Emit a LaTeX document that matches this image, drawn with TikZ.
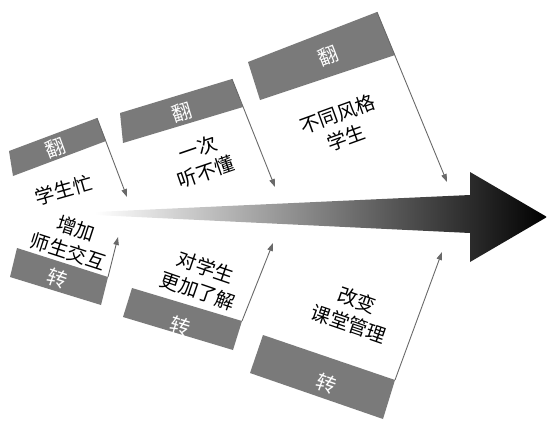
\documentclass[tikz,border=0pt]{standalone}
\usepackage{fontspec}
\newfontfamily\cjk{Noto Sans CJK SC}
\usetikzlibrary{arrows.meta}
\definecolor{flaggray}{RGB}{122,122,122}
\definecolor{linegray}{RGB}{105,105,105}
\begin{document}
\begin{tikzpicture}[x=1pt,y=1pt,
  flag/.style={fill=flaggray, draw=none},
  conn/.style={draw=linegray, line width=0.9pt, -{Triangle[length=8pt,width=5.5pt]}},
  lbl/.style={font=\cjk\fontsize{19.5}{25}\selectfont, text=black, align=center, inner sep=0pt},
  tag/.style={font=\cjk\fontsize{20}{20}\selectfont, text=white, inner sep=0pt}]
\useasboundingbox (0,0) rectangle (547,-426);

% central gradient arrow
\shade[left color=white, middle color=black!15, right color=black]
  (95,-212) -- (470,-195) -- (470,-172) -- (547,-217) -- (470,-262) -- (470,-233) -- (95,-215) -- cycle;

% top flags
\coordinate (f1a) at (9,-151);   \coordinate (f1b) at (97,-118);
\coordinate (f1c) at (106,-141); \coordinate (f1d) at (13,-176);
\coordinate (f1t) at (127,-197);
\coordinate (f2a) at (120,-113); \coordinate (f2b) at (232,-79);
\coordinate (f2c) at (243,-107); \coordinate (f2d) at (123,-143);
\coordinate (f2t) at (275,-187);
\coordinate (f3a) at (248,-62);  \coordinate (f3b) at (377,-12);
\coordinate (f3c) at (395,-55);  \coordinate (f3d) at (260,-100);
\coordinate (f3t) at (447,-182);
\fill[flag] (f1a) -- (f1b) -- (f1c) -- (f1d) -- cycle;
\fill[flag] (f2a) -- (f2b) -- (f2c) -- (f2d) -- cycle;
\fill[flag] (f3a) -- (f3b) -- (f3c) -- (f3d) -- cycle;
\draw[conn] (f1b) -- (f1t);
\draw[conn] (f2b) -- (f2t);
\draw[conn] (f3b) -- (f3t);
\node[tag, rotate=20] (g1) at (55,-148) {翻};
\node[tag, rotate=17] (g2) at (182,-112) {翻};
\node[tag, rotate=21] (g3) at (328,-56) {翻};

% bottom flags
\coordinate (b1a) at (17,-248);  \coordinate (b1b) at (108,-277);
\coordinate (b1c) at (101,-305); \coordinate (b1d) at (10,-277);
\coordinate (b1t) at (118,-237);
\coordinate (b2a) at (132,-288); \coordinate (b2b) at (242,-321);
\coordinate (b2c) at (233,-350); \coordinate (b2d) at (123,-317);
\coordinate (b2t) at (273,-243);
\coordinate (b3a) at (263,-335); \coordinate (b3b) at (395,-380);
\coordinate (b3c) at (383,-419); \coordinate (b3d) at (250,-373);
\coordinate (b3t) at (442,-252);
\fill[flag] (b1a) -- (b1b) -- (b1c) -- (b1d) -- cycle;
\fill[flag] (b2a) -- (b2b) -- (b2c) -- (b2d) -- cycle;
\fill[flag] (b3a) -- (b3b) -- (b3c) -- (b3d) -- cycle;
\draw[conn] (b1b) -- (b1t);
\draw[conn] (b2b) -- (b2t);
\draw[conn] (b3b) -- (b3t);
\node[tag, rotate=-18] (z1) at (57,-278) {转};
\node[tag, rotate=-17] (z2) at (180,-326) {转};
\node[tag, rotate=-19] (z3) at (326,-384) {转};

% labels
\node[lbl, rotate=16] (t1) at (64,-190) {学生忙};
\node[lbl, rotate=-18] (l1) at (72,-240) {增加\\师生交互};
\node[lbl, rotate=19] (t2) at (202,-160) {一次\\听不懂};
\node[lbl, rotate=20] (t3) at (342,-126) {不同风格\\学生};
\node[lbl, rotate=-19] (l2) at (202,-279) {对学生\\更加了解};
\node[lbl, rotate=-19] (l3) at (353,-312) {改变\\课堂管理};
\end{tikzpicture}
\end{document}
